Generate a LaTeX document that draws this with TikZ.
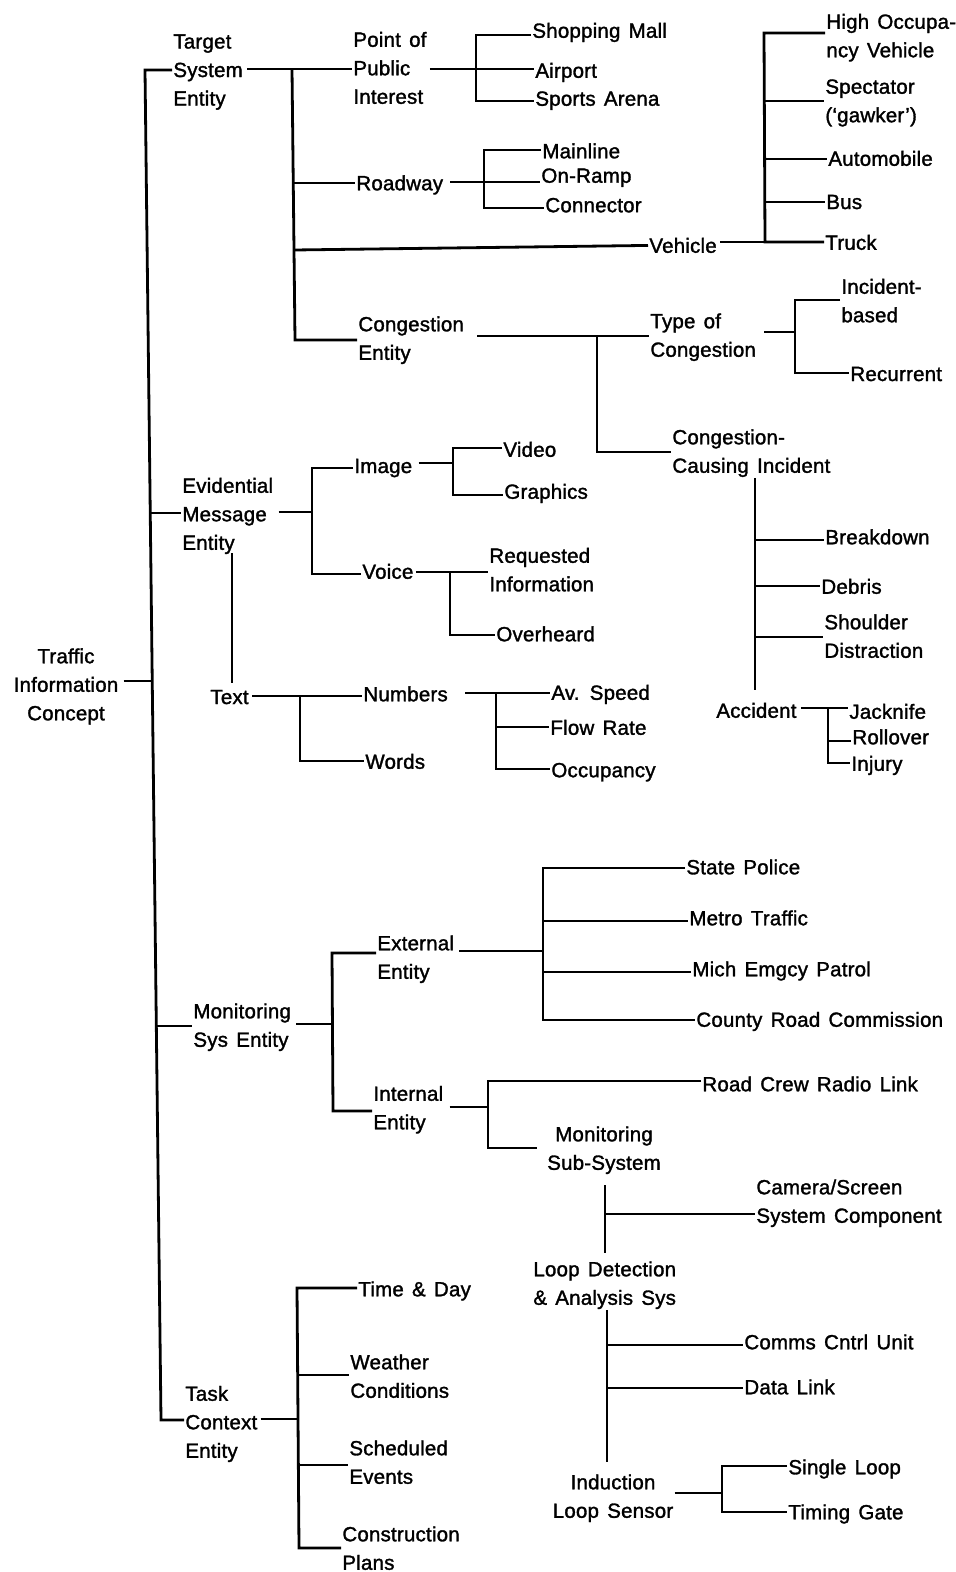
\documentclass[tikz,border=0pt]{standalone}
\usepackage{fontspec}
\setmainfont{Liberation Sans}[LetterSpace=1.0,WordSpace=1.4,FakeBold=1.5]
\begin{document}
\begin{tikzpicture}[x=1pt,y=-1pt,line width=2.8pt,line join=miter,
  lbl/.style={anchor=north west,inner sep=0pt,align=left,
    font=\fontsize{20.5}{28.5}\selectfont},
  lblc/.style={lbl,anchor=north,align=center}]
\useasboundingbox (0,0) rectangle (956,1572);

% ---------- labels ----------
\node[lblc] (root) at (66,647) {Traffic\\Information\\Concept};
\node[lbl] (tse) at (172,33) {Target\\System\\Entity};
\node[lbl] (poi) at (352,30.5) {Point of\\Public\\Interest};
\node[lbl] (roadway) at (355,174) {Roadway};
\node[lbl] (mall) at (531,21.5) {Shopping Mall};
\node[lbl] (airport) at (534,61.5) {Airport};
\node[lbl] (arena) at (534,90) {Sports Arena};
\node[lbl] (mainline) at (541,142) {Mainline};
\node[lbl] (onramp) at (540,167) {On-Ramp};
\node[lbl] (connector) at (544,196.5) {Connector};
\node[lbl] (vehicle) at (648,236.5) {Vehicle};
\node[lbl] (hov) at (825,12.5) {High Occupa-\\ncy Vehicle};
\node[lbl] (spectator) at (824,78) {Spectator\\(`gawker')};
\node[lbl] (auto) at (827,149.5) {Automobile};
\node[lbl] (bus) at (825,193.5) {Bus};
\node[lbl] (truck) at (824,233.5) {Truck};
\node[lbl] (congent) at (357,315) {Congestion\\Entity};
\node[lbl] (typecong) at (649,312) {Type of\\Congestion};
\node[lbl] (incbased) at (840,277.5) {Incident-\\based};
\node[lbl] (recurrent) at (849,365.5) {Recurrent};
\node[lbl] (cci) at (671,428) {Congestion-\\Causing Incident};
\node[lbl] (breakdown) at (824,528) {Breakdown};
\node[lbl] (debris) at (820,577.5) {Debris};
\node[lbl] (shoulder) at (823,613) {Shoulder\\Distraction};
\node[lbl] (accident) at (715,701.5) {Accident};
\node[lbl] (jacknife) at (848,702.5) {Jacknife};
\node[lbl] (rollover) at (851,728) {Rollover};
\node[lbl] (injury) at (850,754.5) {Injury};
\node[lbl] (eme) at (181,476.5) {Evidential\\Message\\Entity};
\node[lbl] (image) at (353,457.5) {Image};
\node[lbl] (voice) at (361,562.5) {Voice};
\node[lbl] (video) at (502,440.5) {Video};
\node[lbl] (graphics) at (503,482.5) {Graphics};
\node[lbl] (reqinfo) at (488,546.5) {Requested\\Information};
\node[lbl] (overheard) at (495,625) {Overheard};
\node[lbl] (text) at (209,688.5) {Text};
\node[lbl] (numbers) at (362,685) {Numbers};
\node[lbl] (words) at (364,752.5) {Words};
\node[lbl] (avspeed) at (550,683.5) {Av. Speed};
\node[lbl] (flowrate) at (549,718.5) {Flow Rate};
\node[lbl] (occupancy) at (550,761.5) {Occupancy};
\node[lbl] (mse) at (192,1002) {Monitoring\\Sys Entity};
\node[lbl] (external) at (376,934) {External\\Entity};
\node[lbl] (internal) at (372,1084.5) {Internal\\Entity};
\node[lbl] (statepol) at (685,858) {State Police};
\node[lbl] (metro) at (688,909) {Metro Traffic};
\node[lbl] (mich) at (691,960) {Mich Emgcy Patrol};
\node[lbl] (county) at (695,1010.5) {County Road Commission};
\node[lbl] (roadcrew) at (701,1075) {Road Crew Radio Link};
\node[lblc] (monsub) at (604,1125) {Monitoring\\Sub-System};
\node[lbl] (camera) at (755,1178) {Camera/Screen\\System Component};
\node[lbl] (loopdet) at (532,1260) {Loop Detection\\\& Analysis Sys};
\node[lbl] (comms) at (743,1333) {Comms Cntrl Unit};
\node[lbl] (datalink) at (743,1378) {Data Link};
\node[lblc] (induction) at (613,1473) {Induction\\Loop Sensor};
\node[lbl] (single) at (787,1458) {Single Loop};
\node[lbl] (timing) at (787,1503) {Timing Gate};
\node[lbl] (tce) at (184,1384.5) {Task\\Context\\Entity};
\node[lbl] (timeday) at (357,1280) {Time \& Day};
\node[lbl] (weather) at (349,1353) {Weather\\Conditions};
\node[lbl] (scheduled) at (348,1439) {Scheduled\\Events};
\node[lbl] (construction) at (341,1525) {Construction\\Plans};

% ---------- main trunk ----------
\coordinate (t0) at (145,70);
\coordinate (t1) at (150.3,513);
\coordinate (t2) at (152.2,681);
\coordinate (t3) at (156.3,1026);
\coordinate (t4) at (161,1420);
\draw (tse.west |- t0) -- (t0) -- (t4) -- (tce.west |- t4);
\draw (t1) -- (eme.west |- t1);
\draw (t3) -- (mse.west |- t3);
\draw (root.east |- t2) ++(4,0) -- (t2);

% ---------- target system entity ----------
\coordinate (a0) at (292,69);
\coordinate (a1) at (293.5,183);
\coordinate (a2) at (294,250);
\coordinate (a3) at (295,340);
\draw (tse.east |- a0) ++(3,0) -- (a0) -- (poi.west |- a0);
\draw (a0) -- (a3) -- (congent.west |- a3);
\draw (a1) -- (roadway.west |- a1);
\draw (a2) -- (vehicle.west);

\coordinate (p0) at (476,35);
\coordinate (p1) at (476,69);
\coordinate (p2) at (476,101);
\draw (mall.west |- p0) -- (p0) -- (p2) -- (arena.west |- p2);
\draw (poi.east |- p1) ++(2,0) -- (p1) -- (airport.west |- p1);

\coordinate (r0) at (484,150);
\coordinate (r1) at (484,182);
\coordinate (r2) at (484,208);
\draw (mainline.west |- r0) -- (r0) -- (r2) -- (connector.west |- r2);
\draw (roadway.east |- r1) ++(6,0) -- (r1) -- (onramp.west |- r1);

\coordinate (v0) at (764,33);
\coordinate (v1) at (765,101);
\coordinate (v2) at (765,159);
\coordinate (v3) at (765,202);
\coordinate (v4) at (765,242);
\draw (hov.west |- v0) -- (v0) -- (v4) -- (truck.west |- v4);
\draw (vehicle.east |- v4) ++(2,0) -- (v4);
\draw (v1) -- (spectator.west |- v1);
\draw (v2) -- (auto.west |- v2);
\draw (v3) -- (bus.west |- v3);

\coordinate (c0) at (597,336);
\coordinate (c1) at (597,452);
\draw (congent.east |- c0) ++(12,0) -- (typecong.west |- c0);
\draw (c0) -- (c1) -- (cci.west |- c1);

\coordinate (y0) at (795,300);
\coordinate (y1) at (795,332);
\coordinate (y2) at (795,373);
\draw (incbased.west |- y0) -- (y0) -- (y2) -- (recurrent.west |- y2);
\draw (typecong.east |- y1) ++(7,0) -- (y1);

\coordinate (k0) at (755,478);
\coordinate (k1) at (755,540);
\coordinate (k2) at (755,586);
\coordinate (k3) at (755,637);
\coordinate (k4) at (755,690);
\draw (k0) -- (k4);
\draw (k1) -- (breakdown.west |- k1);
\draw (k2) -- (debris.west |- k2);
\draw (k3) -- (shoulder.west |- k3);

\coordinate (x0) at (828,708);
\coordinate (x1) at (828,741);
\coordinate (x2) at (828,763);
\draw (accident.east |- x0) ++(3,0) -- (jacknife.west |- x0);
\draw (x0) -- (x2) -- (injury.west |- x2);
\draw (x1) -- (rollover.west |- x1);

% ---------- evidential message entity ----------
\coordinate (e0) at (312,468);
\coordinate (e1) at (312,512);
\coordinate (e2) at (312,574);
\draw (image.west |- e0) -- (e0) -- (e2) -- (voice.west |- e2);
\draw (eme.east |- e1) ++(4,0) -- (e1);
\coordinate (m0) at (232,553);
\coordinate (m1) at (232,683);
\draw (m0) -- (m1);

\coordinate (i0) at (453,448);
\coordinate (i1) at (453,463);
\coordinate (i2) at (453,495);
\draw (video.west |- i0) -- (i0) -- (i2) -- (graphics.west |- i2);
\draw (image.east |- i1) ++(5,0) -- (i1);

\coordinate (o0) at (450,572);
\coordinate (o1) at (450,635);
\draw (voice.east |- o0) ++(1,0) -- (reqinfo.west |- o0);
\draw (o0) -- (o1) -- (overheard.west |- o1);

\coordinate (w0) at (300,696);
\coordinate (w1) at (300,761);
\draw (text.east |- w0) ++(2,0) -- (numbers.west |- w0);
\draw (w0) -- (w1) -- (words.west |- w1);

\coordinate (n0) at (496,693);
\coordinate (n1) at (496,727);
\coordinate (n2) at (496,769);
\draw (numbers.east |- n0) ++(16,0) -- (avspeed.west |- n0);
\draw (n0) -- (n2) -- (occupancy.west |- n2);
\draw (n1) -- (flowrate.west |- n1);

% ---------- monitoring system entity ----------
\coordinate (s0) at (332,953);
\coordinate (s1) at (332,1024);
\coordinate (s2) at (333,1111);
\draw (external.west |- s0) -- (s0) -- (s2) -- (internal.west |- s2);
\draw (mse.east |- s1) ++(4,0) -- (s1);

\coordinate (g0) at (543,868);
\coordinate (g1) at (543,951);
\coordinate (g2) at (543,921);
\coordinate (g3) at (543,972);
\coordinate (g4) at (543,1020);
\draw (statepol.west |- g0) -- (g0) -- (g4) -- (county.west |- g4);
\draw (external.east |- g1) ++(4,0) -- (g1);
\draw (g2) -- (metro.west |- g2);
\draw (g3) -- (mich.west |- g3);

\coordinate (h0) at (488,1081);
\coordinate (h1) at (488,1107);
\coordinate (h2) at (488,1148);
\coordinate (h3) at (537,1148);
\draw (roadcrew.west |- h0) -- (h0) -- (h2) -- (h3);
\draw (internal.east |- h1) ++(5,0) -- (h1);

\coordinate (q0) at (605,1185);
\coordinate (q1) at (605,1214);
\coordinate (q2) at (605,1253);
\draw (q0) -- (q2);
\draw (q1) -- (camera.west |- q1);

\coordinate (l0) at (607,1310);
\coordinate (l1) at (607,1345);
\coordinate (l2) at (607,1388);
\coordinate (l3) at (607,1462);
\draw (l0) -- (l3);
\draw (l1) -- (comms.west |- l1);
\draw (l2) -- (datalink.west |- l2);

\coordinate (d0) at (722,1466);
\coordinate (d1) at (722,1493);
\coordinate (d2) at (722,1512);
\draw (single.west |- d0) -- (d0) -- (d2) -- (timing.west |- d2);
\draw (induction.east |- d1) -- (d1);

% ---------- task context entity ----------
\coordinate (u0) at (297,1288);
\coordinate (u1) at (298,1419);
\coordinate (u2) at (298,1375);
\coordinate (u3) at (298,1465);
\coordinate (u4) at (299,1548);
\draw (timeday.west |- u0) -- (u0) -- (u4) -- (construction.west |- u4);
\draw (tce.east |- u1) ++(2,0) -- (u1);
\draw (u2) -- (weather.west |- u2);
\draw (u3) -- (scheduled.west |- u3);
\end{tikzpicture}
\end{document}
